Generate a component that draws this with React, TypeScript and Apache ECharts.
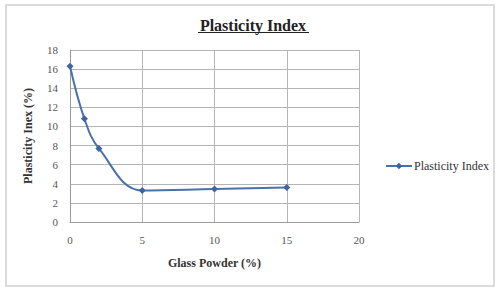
import React, { useEffect, useRef } from "react";
import * as echarts from "echarts";

const glassPowder = [0, 1, 2, 5, 10, 15];
const plasticityIndex = [16.3, 10.8, 7.7, 3.3, 3.45, 3.6];
const seriesName = "Plasticity Index";
const titleText = "Plasticity Index";
const xAxisName = "Glass Powder (%)";
const yAxisName = "Plasticity Inex (%)";

export default function App() {
  const ref = useRef<HTMLDivElement>(null);
  useEffect(() => {
    if (!ref.current) return;
    const chart = echarts.init(ref.current, undefined, { renderer: "svg" });
    const serif = "Liberation Serif";
    chart.setOption({
      animation: false,
      backgroundColor: "#fff",
      graphic: [
        {
          type: "rect",
          shape: { x: 6, y: 5, width: 488, height: 281 },
          style: { fill: "none", stroke: "#cfcfcf", lineWidth: 1.5 },
          silent: true,
        },
        {
          type: "text",
          x: 253,
          y: 25,
          style: {
            text: titleText,
            fontFamily: serif,
            fontSize: 16,
            fontWeight: "bold",
            fill: "#222",
            align: "center",
            verticalAlign: "middle",
          },
          silent: true,
        },
        {
          type: "line",
          shape: { x1: 198, y1: 32.5, x2: 309, y2: 32.5 },
          style: { stroke: "#222", lineWidth: 1.2 },
          silent: true,
        },
      ],
      legend: {
        data: [seriesName],
        left: 380,
        top: 155,
        itemWidth: 26,
        itemHeight: 8,
        itemGap: 4,
        textStyle: { fontFamily: serif, fontSize: 12, color: "#333", padding: [0, 0, 0, -3] },
      },
      grid: { left: 70, right: 138, top: 50, bottom: 67 },
      xAxis: {
        type: "value",
        min: 0,
        max: 20,
        interval: 5,
        name: xAxisName,
        nameLocation: "middle",
        nameGap: 35,
        nameTextStyle: { fontFamily: serif, fontSize: 12, fontWeight: "bold", color: "#333" },
        axisLine: { show: true, lineStyle: { color: "#9a9a9a" } },
        axisTick: { show: false },
        axisLabel: { fontFamily: serif, fontSize: 11, color: "#555", margin: 12 },
        splitLine: { show: true, lineStyle: { color: "#b5b5b5" } },
      },
      yAxis: {
        type: "value",
        min: 0,
        max: 18,
        interval: 2,
        name: yAxisName,
        nameLocation: "middle",
        nameGap: 36,
        nameTextStyle: { fontFamily: serif, fontSize: 12, fontWeight: "bold", color: "#333" },
        axisLine: { show: true, lineStyle: { color: "#9a9a9a" } },
        axisTick: { show: false },
        axisLabel: { fontFamily: serif, fontSize: 11, color: "#555", margin: 12 },
        splitLine: { show: true, lineStyle: { color: "#b5b5b5" } },
      },
      series: [
        {
          name: seriesName,
          type: "line",
          smooth: 0.4,
          data: glassPowder.map((x, i) => [x, plasticityIndex[i]]),
          symbol: "diamond",
          symbolSize: 7,
          lineStyle: { color: "#4a72a8", width: 2 },
          itemStyle: { color: "#3f64a0" },
        },
      ],
    });
    return () => chart.dispose();
  }, []);
  return (
    <div
      ref={ref}
      style={{ position: "absolute", left: 0, top: 0, width: 497, height: 289 }}
    />
  );
}
